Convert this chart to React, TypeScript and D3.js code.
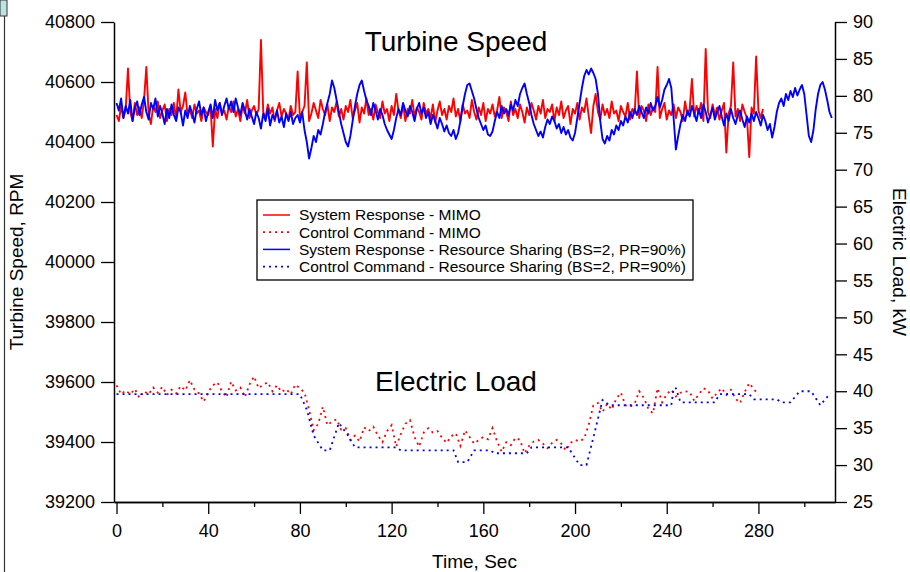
import React, { useEffect, useRef } from "react";
import * as d3 from "d3";

// turbine speed (RPM), one sample per second
const SPEED_STEP = 1;
const speedMimo = [
  40490, 40470, 40520, 40480, 40510, 40645, 40500, 40470, 40530, 40490,
  40515, 40480, 40540, 40650, 40495, 40460, 40520, 40500, 40535, 40480,
  40505, 40525, 40470, 40510, 40490, 40530, 40475, 40575, 40500, 40520,
  40565, 40490, 40510, 40480, 40525, 40495, 40505, 40470, 40515, 40500,
  40490, 40520, 40385, 40510, 40480, 40530, 40495, 40505, 40475, 40520,
  40500, 40535, 40485, 40510, 40470, 40520, 40495, 40540, 40480, 40505,
  40520, 40490, 40510, 40740, 40500, 40480, 40525, 40495, 40515, 40470,
  40505, 40530, 40485, 40510, 40495, 40475, 40520, 40490, 40500, 40635,
  40480, 40500, 40520, 40665, 40470, 40495, 40530, 40505, 40480, 40540,
  40510, 40490, 40525, 40470, 40515, 40500, 40535, 40485, 40510, 40475,
  40520, 40500, 40540, 40480, 40505, 40530, 40465, 40515, 40495, 40545,
  40490, 40510, 40475, 40525, 40500, 40480, 40535, 40495, 40510, 40470,
  40520, 40490, 40560, 40505, 40480, 40525, 40470, 40510, 40495, 40540,
  40485, 40515, 40500, 40475, 40530, 40495, 40510, 40480, 40525, 40465,
  40505, 40535, 40490, 40510, 40475, 40520, 40500, 40545, 40485, 40510,
  40470, 40525, 40495, 40505, 40480, 40540, 40500, 40475, 40515, 40490,
  40530, 40470, 40510, 40495, 40525, 40485, 40505, 40550, 40480, 40515,
  40500, 40470, 40535, 40490, 40510, 40480, 40525, 40500, 40465, 40515,
  40490, 40530, 40505, 40475, 40520, 40495, 40540, 40480, 40510, 40500,
  40525, 40470, 40515, 40490, 40535, 40480, 40505, 40520, 40460, 40510,
  40495, 40530, 40475, 40515, 40500, 40545, 40485, 40430, 40520, 40560,
  40500, 40475, 40525, 40490, 40510, 40480, 40535, 40495, 40505, 40470,
  40520, 40500, 40485, 40530, 40475, 40510, 40495, 40635, 40480, 40520,
  40505, 40470, 40525, 40490, 40515, 40500, 40650, 40480, 40510, 40530,
  40475, 40505, 40490, 40525, 40480, 40515, 40500, 40470, 40535, 40490,
  40510, 40610, 40485, 40520, 40495, 40530, 40470, 40710, 40500, 40480,
  40525, 40490, 40515, 40475, 40505, 40530, 40365, 40495, 40520, 40665,
  40485, 40510, 40470, 40525, 40500, 40480, 40350, 40515, 40495, 40685,
  40505, 40480, 40510,
];
const speedShared = [
  40530, 40505, 40545, 40480, 40520, 40495, 40540, 40470, 40515, 40535,
  40490, 40525, 40550, 40500, 40475, 40530, 40510, 40545, 40485, 40520,
  40495, 40460, 40510, 40480, 40525, 40490, 40470, 40515, 40500, 40455,
  40505, 40480, 40520, 40495, 40465, 40510, 40535, 40490, 40515, 40470,
  40500, 40525, 40480, 40540, 40505, 40530, 40490, 40520, 40545, 40510,
  40535, 40500, 40545, 40515, 40490, 40530, 40505, 40475, 40510, 40485,
  40460, 40500, 40480, 40445, 40495, 40470, 40510, 40455, 40490, 40475,
  40505, 40465, 40485, 40450, 40495, 40470, 40500, 40460, 40480, 40490,
  40465, 40500, 40440, 40400, 40345, 40380, 40420, 40400, 40440, 40425,
  40460, 40500, 40530, 40560, 40605, 40580, 40540, 40500, 40460, 40430,
  40400, 40385, 40420, 40470, 40520, 40560, 40590, 40605, 40570, 40540,
  40520, 40490, 40530, 40505, 40475, 40510, 40490, 40460, 40440, 40425,
  40410, 40440, 40480, 40510, 40490, 40530, 40505, 40485, 40520, 40500,
  40470, 40510, 40530, 40495, 40515, 40480, 40500, 40460, 40490, 40470,
  40445, 40480, 40460, 40435, 40455, 40430, 40420, 40440, 40410, 40430,
  40470, 40520, 40560, 40590, 40595, 40570, 40545, 40510, 40480, 40460,
  40440, 40455, 40425, 40420, 40435, 40470, 40500, 40480, 40520, 40495,
  40510, 40490, 40525, 40505, 40540, 40520, 40560, 40580, 40595, 40560,
  40530, 40490, 40460, 40440, 40420, 40435, 40415, 40450, 40475, 40460,
  40485, 40470, 40445, 40460, 40430, 40450, 40425, 40440, 40415, 40405,
  40430, 40480, 40530, 40580, 40620, 40640, 40625, 40645, 40630, 40610,
  40560, 40470, 40410, 40395, 40420, 40405, 40440, 40425, 40455, 40440,
  40470, 40455, 40485, 40465, 40500, 40480, 40510, 40490, 40520, 40500,
  40480, 40515, 40495, 40530, 40505, 40520, 40550, 40515, 40540, 40575,
  40590, 40610, 40580, 40480, 40375, 40420, 40460, 40490, 40470, 40505,
  40485, 40520, 40495, 40470, 40510, 40480, 40525, 40500, 40465, 40490,
  40515, 40475, 40500, 40520, 40485, 40455, 40495, 40470, 40510, 40480,
  40460, 40490, 40505, 40475, 40450, 40485, 40465, 40495, 40470, 40500,
  40480, 40455, 40490, 40470, 40440, 40460, 40415, 40450, 40500, 40530,
  40545, 40520, 40560, 40540, 40570, 40550, 40580, 40555, 40575, 40590,
  40560, 40490, 40420, 40400, 40440, 40510, 40560, 40590, 40600, 40575,
  40540, 40500, 40480,
];

// electric load command (kW)
const LOAD_STEP = 2;
const loadMimo = [
  40.8, 39.6, 40.1, 39.6, 40.3, 39.1, 40.0, 39.6, 40.5, 39.8,
  40.6, 39.5, 40.2, 39.7, 40.7, 40.1, 41.5, 40.2, 39.7, 38.6,
  39.9, 40.8, 41.2, 40.0, 39.2, 41.3, 40.1, 40.5, 39.2, 40.9,
  42.0, 40.4, 40.9, 41.2, 40.0, 40.8, 39.9, 40.3, 39.6, 40.9,
  40.4, 39.8, 37.5, 34.7, 35.6, 37.9, 35.4, 35.9, 36.2, 34.8,
  35.0, 33.4, 34.0, 33.2, 35.1, 34.6, 35.2, 34.0, 33.1, 34.6,
  35.4, 32.5, 34.2, 35.6, 36.1, 33.8, 32.5, 34.4, 35.0, 34.4,
  34.6, 33.7, 33.0, 33.9, 34.3, 32.6, 34.7, 33.8, 32.9, 33.4,
  33.8, 33.5, 35.0, 33.2, 31.8, 33.1, 32.7, 33.7, 33.4, 31.6,
  32.6, 33.2, 33.4, 32.9, 32.3, 33.0, 33.4, 32.9, 32.0, 33.0,
  33.4, 33.2, 33.6, 35.5, 38.1, 38.4, 37.2, 38.3, 37.5, 39.0,
  39.8, 38.1, 37.9, 38.3, 40.0, 39.1, 37.6, 37.0, 40.4, 38.5,
  39.6, 40.2, 39.3, 39.8, 40.0, 39.9, 38.7, 39.6, 40.4, 40.1,
  39.0, 39.8, 40.4, 39.5, 40.2, 39.0, 38.4, 39.9, 41.1, 40.3,
  39.5,
];
const loadSharedTime = [
  0, 80, 83, 86, 90, 93, 97, 101, 104, 122, 124, 147, 149, 153, 156, 163,
  165, 179, 181, 197, 202, 205, 209, 212, 215, 242, 243, 244, 246, 261,
  263, 276, 278, 288, 290, 294, 298, 303, 307, 311,
];
const loadShared = [
  39.6, 39.6, 37.5, 34.0, 32.0, 32.0, 35.7, 34.0, 32.4, 32.4, 32.0, 32.0,
  30.4, 30.4, 32.0, 32.0, 31.6, 31.6, 32.4, 32.4, 30.0, 30.0, 35.0, 38.8,
  38.1, 38.1, 40.4, 40.4, 38.5, 38.5, 39.6, 39.6, 38.9, 38.9, 38.5, 38.5,
  40.0, 40.0, 38.1, 39.6,
];

const timeMajor = [0, 40, 80, 120, 160, 200, 240, 280];
const timeMinor = [20, 60, 100, 140, 180, 220, 260, 300];
const speedTicks = [39200, 39400, 39600, 39800, 40000, 40200, 40400, 40600, 40800];
const loadTicks = [25, 30, 35, 40, 45, 50, 55, 60, 65, 70, 75, 80, 85, 90];

const legendItems = [
  { label: "System Response - MIMO", color: "#ff0000", dash: null },
  { label: "Control Command - MIMO", color: "#ff0000", dash: "2,4" },
  { label: "System Response - Resource Sharing (BS=2, PR=90%)", color: "#0000ff", dash: null },
  { label: "Control Command - Resource Sharing (BS=2, PR=90%)", color: "#0000ff", dash: "2,4" },
];

const FONT = "'Liberation Sans', Arial, sans-serif";

export default function App() {
  const svgRef = useRef<SVGSVGElement>(null);

  useEffect(() => {
    const svg = d3.select(svgRef.current);
    svg.selectAll("*").remove();

    const left = 114;
    const right = 835;
    const top = 22;
    const bottom = 502;

    const x = d3.scaleLinear().domain([-1.1, 313.4]).range([left, right]);
    const ySpeed = d3.scaleLinear().domain([39200, 40800]).range([bottom, top]);
    const yLoad = d3.scaleLinear().domain([25, 90]).range([bottom, top]);

    // window frame bits at the left edge
    svg.append("rect").attr("x", 0).attr("y", 0).attr("width", 7).attr("height", 16)
      .attr("fill", "#bfe2e4").attr("stroke", "#333").attr("stroke-width", 1);
    svg.append("line").attr("x1", 4.5).attr("x2", 4.5).attr("y1", 16).attr("y2", 572)
      .attr("stroke", "#333").attr("stroke-width", 1.2);

    // data lines
    const speedLine = d3.line<number>()
      .x((d, i) => x(i * SPEED_STEP))
      .y((d) => ySpeed(d));

    svg.append("path").datum(speedMimo).attr("d", speedLine)
      .attr("fill", "none").attr("stroke", "#ff0000").attr("stroke-width", 1.9)
      .attr("stroke-linejoin", "round");

    svg.append("path").datum(loadMimo)
      .attr("d", d3.line<number>().x((d, i) => x(i * LOAD_STEP)).y((d) => yLoad(d)))
      .attr("fill", "none").attr("stroke", "#ff0000").attr("stroke-width", 1.8)
      .attr("stroke-dasharray", "2,4");

    svg.append("path").datum(speedShared).attr("d", speedLine)
      .attr("fill", "none").attr("stroke", "#0000ff").attr("stroke-width", 1.9)
      .attr("stroke-linejoin", "round");

    svg.append("path").datum(loadShared)
      .attr("d", d3.line<number>().x((d, i) => x(loadSharedTime[i])).y((d) => yLoad(d)))
      .attr("fill", "none").attr("stroke", "#0000ff").attr("stroke-width", 1.8)
      .attr("stroke-dasharray", "2,4");

    // axes
    const styleAxis = (g: any, size: number) => {
      g.selectAll("path").attr("stroke", "#000").attr("stroke-width", 1.5);
      g.selectAll("line").attr("stroke", "#000").attr("stroke-width", 1.3);
      g.selectAll("text").attr("font-family", FONT).attr("font-size", size).attr("fill", "#000");
    };

    svg.append("g")
      .attr("transform", `translate(0,${bottom})`)
      .call(d3.axisBottom(x).tickValues(timeMinor).tickSize(5).tickSizeOuter(0).tickFormat(() => ""))
      .call((g: any) => styleAxis(g, 18));

    svg.append("g")
      .attr("transform", `translate(0,${bottom})`)
      .call(d3.axisBottom(x).tickValues(timeMajor).tickSize(12).tickPadding(10).tickSizeOuter(0))
      .call((g: any) => styleAxis(g, 18));

    svg.append("g")
      .attr("transform", `translate(${left},0)`)
      .call(d3.axisLeft(ySpeed).tickValues(speedTicks).tickSize(13).tickPadding(6).tickSizeOuter(0).tickFormat(d3.format("d")))
      .call((g: any) => styleAxis(g, 18));

    svg.append("g")
      .attr("transform", `translate(${right},0)`)
      .call(d3.axisRight(yLoad).tickValues(loadTicks).tickSize(12).tickPadding(6).tickSizeOuter(0))
      .call((g: any) => styleAxis(g, 18));

    // axis titles
    svg.append("text")
      .attr("x", (left + right) / 2).attr("y", 568)
      .attr("text-anchor", "middle")
      .attr("font-family", FONT).attr("font-size", 19)
      .text("Time, Sec");

    svg.append("text")
      .attr("transform", `translate(23,${(top + bottom) / 2}) rotate(-90)`)
      .attr("text-anchor", "middle")
      .attr("font-family", FONT).attr("font-size", 19)
      .text("Turbine Speed, RPM");

    svg.append("text")
      .attr("transform", `translate(893,${(top + bottom) / 2}) rotate(90)`)
      .attr("text-anchor", "middle")
      .attr("font-family", FONT).attr("font-size", 19)
      .text("Electric Load, kW");

    // in-plot titles
    svg.append("text")
      .attr("x", 456).attr("y", 51)
      .attr("text-anchor", "middle")
      .attr("font-family", FONT).attr("font-size", 28)
      .text("Turbine Speed");

    svg.append("text")
      .attr("x", 456).attr("y", 391)
      .attr("text-anchor", "middle")
      .attr("font-family", FONT).attr("font-size", 28)
      .text("Electric Load");

    // legend
    const legend = svg.append("g").attr("transform", "translate(257,200)");
    legend.append("rect")
      .attr("width", 436).attr("height", 80)
      .attr("fill", "#fff").attr("stroke", "#000").attr("stroke-width", 1.3);

    legendItems.forEach((item, i) => {
      const cy = 15 + i * 17.2;
      const line = legend.append("line")
        .attr("x1", 6).attr("x2", 33).attr("y1", cy).attr("y2", cy)
        .attr("stroke", item.color).attr("stroke-width", item.dash ? 1.8 : 1.5);
      if (item.dash) line.attr("stroke-dasharray", item.dash);
      legend.append("text")
        .attr("x", 42).attr("y", cy)
        .attr("dy", "0.35em")
        .attr("font-family", FONT).attr("font-size", 15.5)
        .text(item.label);
    });
  }, []);

  return (
    <svg
      ref={svgRef}
      width={910}
      height={572}
      style={{ position: "absolute", left: 0, top: 0, background: "#fff" }}
    />
  );
}
